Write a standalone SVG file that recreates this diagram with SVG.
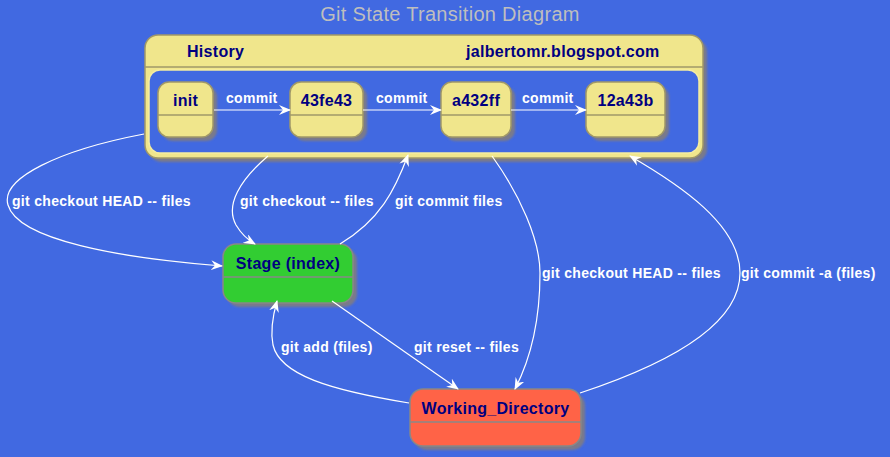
<svg xmlns="http://www.w3.org/2000/svg" width="890" height="457" viewBox="0 0 890 457">
<defs>
<marker id="ah" viewBox="0 0 12 10" refX="11" refY="5" markerWidth="12" markerHeight="10" markerUnits="userSpaceOnUse" orient="auto">
<path d="M0,0 L12,5 L0,10 L4,5 Z" fill="#FFFFFF"/>
</marker>
<filter id="sh" x="-10%" y="-10%" width="130%" height="140%">
<feGaussianBlur stdDeviation="1"/>
</filter>
<style>
.title{font-family:"Liberation Sans",Arial,sans-serif;font-size:20px;letter-spacing:0.3px;fill:#BEBEBE}
.nm{font-family:"Liberation Sans",Arial,sans-serif;font-size:16px;letter-spacing:0.3px;font-weight:bold;fill:#000080}
.lb{font-family:"Liberation Sans",Arial,sans-serif;font-size:14px;letter-spacing:0.3px;font-weight:bold;fill:#FFFFFF}
.shadow{fill:#7A7A8A;filter:url(#sh)}
.khaki{fill:#F0E68C;stroke:#A09868;stroke-width:1.5}
.sep{stroke:#A09868;stroke-width:1.5}
.edge{fill:none;stroke:#FFFFFF;stroke-width:1.2;marker-end:url(#ah)}
</style>
</defs>
<rect width="890" height="457" fill="#4169E1"/>
<text class="title" x="450" y="21" text-anchor="middle">Git State Transition Diagram</text>

<g id="History">
<rect class="shadow" x="149" y="39" width="558" height="123" rx="13"/>
<rect class="khaki" x="145" y="35" width="558" height="123" rx="13"/>
<line class="sep" x1="145" y1="67" x2="703" y2="67"/>
<rect x="149" y="70" width="550" height="83" rx="11" fill="#4169E1" stroke="#F5EDA0" stroke-width="1.5"/>
<text class="nm" x="187" y="57">History</text>
<text class="nm" x="466" y="57">jalbertomr.blogspot.com</text>
</g>

<g id="init">
<rect class="shadow" x="162" y="86" width="55" height="55" rx="11"/>
<rect class="khaki" x="158" y="82" width="55" height="55" rx="11"/>
<line class="sep" x1="158" y1="115" x2="213" y2="115"/>
<text class="nm" x="185.5" y="106" text-anchor="middle">init</text>
</g>

<g id="n43fe43">
<rect class="shadow" x="294" y="86" width="73" height="55" rx="11"/>
<rect class="khaki" x="290" y="82" width="73" height="55" rx="11"/>
<line class="sep" x1="290" y1="115" x2="363" y2="115"/>
<text class="nm" x="326.5" y="106" text-anchor="middle">43fe43</text>
</g>

<g id="a432ff">
<rect class="shadow" x="445" y="86" width="70" height="55" rx="11"/>
<rect class="khaki" x="441" y="82" width="70" height="55" rx="11"/>
<line class="sep" x1="441" y1="115" x2="511" y2="115"/>
<text class="nm" x="476" y="106" text-anchor="middle">a432ff</text>
</g>

<g id="n12a43b">
<rect class="shadow" x="590" y="86" width="79" height="55" rx="11"/>
<rect class="khaki" x="586" y="82" width="79" height="55" rx="11"/>
<line class="sep" x1="586" y1="115" x2="665" y2="115"/>
<text class="nm" x="625.5" y="106" text-anchor="middle">12a43b</text>
</g>

<g id="Stage">
<rect class="shadow" x="227" y="248" width="130" height="59" rx="13"/>
<rect x="223" y="244" width="130" height="59" rx="13" fill="#32CD32" stroke="#888888" stroke-width="1.5"/>
<line x1="223" y1="277" x2="353" y2="277" stroke="#888888" stroke-width="1.5"/>
<text class="nm" x="288" y="269" text-anchor="middle">Stage (index)</text>
</g>

<g id="Working_Directory">
<rect class="shadow" x="414" y="393" width="171" height="57" rx="13"/>
<rect x="410" y="389" width="171" height="57" rx="13" fill="#FF6347" stroke="#888888" stroke-width="1.5"/>
<line x1="410" y1="422" x2="581" y2="422" stroke="#888888" stroke-width="1.5"/>
<text class="nm" x="495.5" y="414" text-anchor="middle">Working_Directory</text>
</g>

<g id="connectors">
<path class="edge" d="M214,110 L290,110"/>
<path class="edge" d="M363,110 L441,110"/>
<path class="edge" d="M511,110 L586,110"/>
<path class="edge" d="M144,134 C60,150 0,178 8,205 C18,240 120,258 222,266"/>
<path class="edge" d="M268,156 C240,180 225,205 236,225 C242,235 248,240 255,244"/>
<path class="edge" d="M340,244 C380,220 395,190 408,155"/>
<path class="edge" d="M492,156 C520,195 540,240 540,273 C540,320 530,360 515,389"/>
<path class="edge" d="M580,393 C680,360 740,320 740,273 C740,225 680,185 630,156"/>
<path class="edge" d="M332,301 L458,389"/>
<path class="edge" d="M409,403 C330,390 280,375 273,345 C270,330 273,315 277,301"/>
</g>

<g id="labels">
<text class="lb" x="226" y="103">commit</text>
<text class="lb" x="376" y="103">commit</text>
<text class="lb" x="522" y="103">commit</text>
<text class="lb" x="12" y="206">git checkout HEAD -- files</text>
<text class="lb" x="240" y="206">git checkout -- files</text>
<text class="lb" x="395" y="206">git commit files</text>
<text class="lb" x="542" y="278">git checkout HEAD -- files</text>
<text class="lb" x="741" y="278">git commit -a (files)</text>
<text class="lb" x="281" y="352">git add (files)</text>
<text class="lb" x="414" y="352">git reset -- files</text>
</g>
</svg>
